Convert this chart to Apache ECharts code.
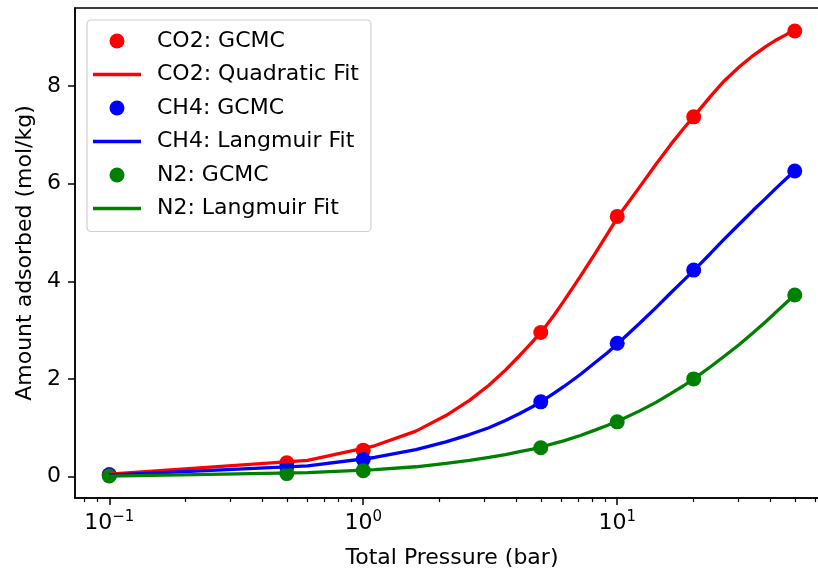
<!DOCTYPE html>
<html>
<head>
<meta charset="utf-8">
<script src="https://cdn.jsdelivr.net/npm/echarts@6/dist/echarts.min.js"></script>
<style>
html, body { margin: 0; padding: 0; background: #fff; }
#chart { width: 818px; height: 571px; }
</style>
</head>
<body>
<div id="chart"></div>
<script>
// GCMC points
const pressures = [0.1, 0.5, 1, 5, 10, 20, 50]
const co2Gcmc = [0.04, 0.28, 0.54, 2.95, 5.33, 7.37, 9.13]
const ch4Gcmc = [0.03, 0.20, 0.35, 1.53, 2.73, 4.23, 6.26]
const n2Gcmc = [0.01, 0.06, 0.12, 0.59, 1.12, 2.00, 3.72]

// fitted curves
const fitPressures = [0.1, 0.604, 1.108, 1.612, 2.116, 2.62, 3.124, 3.628, 4.132, 4.636, 5.14, 5.645, 6.149, 7.157, 8.165, 9.173, 10.18, 12.2, 14.21, 16.23, 18.25, 20.26, 23.29, 26.31, 30.34, 34.37, 38.41, 42.44, 46.47, 50]
const co2Fit = [0.05, 0.33, 0.63, 0.93, 1.25, 1.56, 1.87, 2.18, 2.48, 2.76, 3.03, 3.31, 3.59, 4.10, 4.56, 4.98, 5.36, 5.92, 6.40, 6.80, 7.13, 7.41, 7.79, 8.10, 8.40, 8.63, 8.81, 8.95, 9.06, 9.14]
const ch4Fit = [0.03, 0.22, 0.39, 0.55, 0.71, 0.86, 1.00, 1.15, 1.29, 1.43, 1.57, 1.71, 1.84, 2.09, 2.33, 2.54, 2.75, 3.13, 3.46, 3.76, 4.02, 4.25, 4.57, 4.86, 5.18, 5.46, 5.70, 5.92, 6.11, 6.26]
const n2Fit = [0.01, 0.08, 0.14, 0.20, 0.27, 0.33, 0.39, 0.45, 0.51, 0.56, 0.62, 0.68, 0.73, 0.84, 0.95, 1.05, 1.15, 1.34, 1.52, 1.70, 1.86, 2.02, 2.25, 2.46, 2.71, 2.95, 3.17, 3.38, 3.57, 3.72]

const xMajorTicks = [0.1, 1, 10]
const xMinorTicks = [0.08, 0.09, 0.2, 0.3, 0.4, 0.5, 0.6, 0.7, 0.8, 0.9, 2, 3, 4, 5, 6, 7, 8, 9, 20, 30, 40, 50, 60]
const yTicks = [0, 2, 4, 6, 8]

const FONT = 'DejaVu Sans'
const LINE_W = 3.3
const lineIcon = 'path://M0,0H48V' + LINE_W + 'H0Z'

const zip = (xs, ys) => xs.map((x, i) => [x, ys[i]])

const pointSeries = (name, xs, ys, color) => ({
  name,
  type: 'scatter',
  data: zip(xs, ys),
  symbol: 'circle',
  symbolSize: 15,
  itemStyle: { color, opacity: 1 },
  emphasis: { disabled: true }
})
const fitSeries = (name, xs, ys, color) => ({
  name,
  type: 'line',
  data: zip(xs, ys),
  symbol: 'none',
  showSymbol: false,
  lineStyle: { color, width: LINE_W },
  itemStyle: { color },
  emphasis: { disabled: true }
})

const chart = echarts.init(document.getElementById('chart'))
const option = {
  backgroundColor: '#fff',
  animation: false,
  textStyle: { fontFamily: FONT },
  grid: {
    left: 75,
    top: 8,
    width: 754,
    height: 490,
    show: true,
    borderColor: '#000',
    borderWidth: 1.5,
    outerBoundsMode: 'none'
  },
  legend: {
    orient: 'vertical',
    left: 87,
    top: 20,
    padding: [8, 12, 10, 6],
    itemWidth: 48,
    itemHeight: 15,
    itemGap: 7.5,
    backgroundColor: '#fff',
    borderColor: '#d0d0d0',
    borderWidth: 1.2,
    borderRadius: 4,
    textStyle: { fontFamily: FONT, fontSize: 22, color: '#000', lineHeight: 26, padding: [0, 0, 0, 11] },
    data: [
      { name: 'CO2: GCMC', icon: 'circle' },
      { name: 'CO2: Quadratic Fit', icon: lineIcon },
      { name: 'CH4: GCMC', icon: 'circle' },
      { name: 'CH4: Langmuir Fit', icon: lineIcon },
      { name: 'N2: GCMC', icon: 'circle' },
      { name: 'N2: Langmuir Fit', icon: lineIcon }
    ]
  },
  xAxis: [
    {
      type: 'log',
      logBase: 10,
      min: 0.0733,
      max: 68.2,
      position: 'bottom',
      name: 'Total Pressure (bar)',
      nameLocation: 'middle',
      nameGap: 49,
      nameTextStyle: { fontFamily: FONT, fontSize: 22, color: '#000' },
      axisLine: { show: true, onZero: false, lineStyle: { color: '#000', width: 1.5 } },
      axisTick: { show: true, length: 7, lineStyle: { color: '#000', width: 1.5 }, customValues: xMajorTicks },
      axisLabel: {
        customValues: xMajorTicks,
        margin: 12,
        formatter: v => '{b|10}{s|' + String(Math.round(Math.log10(v))).replace('-', '\u2212') + '}',
        rich: {
          b: { fontFamily: FONT, fontSize: 22, color: '#000', lineHeight: 26 },
          s: { fontFamily: FONT, fontSize: 15, color: '#000', lineHeight: 15, verticalAlign: 'top' }
        }
      },
      splitLine: { show: false },
      minorTick: { show: false }
    },
    {
      type: 'log',
      logBase: 10,
      min: 0.0733,
      max: 68.2,
      position: 'bottom',
      axisLine: { show: false, onZero: false },
      axisTick: { show: true, length: 4, lineStyle: { color: '#000', width: 1.2 }, customValues: xMinorTicks },
      axisLabel: { show: false },
      splitLine: { show: false }
    }
  ],
  yAxis: {
    type: 'value',
    min: -0.44,
    max: 9.6,
    name: 'Amount adsorbed (mol/kg)',
    nameLocation: 'middle',
    nameGap: 38,
    nameTextStyle: { fontFamily: FONT, fontSize: 22, color: '#000' },
    axisLine: { show: true, onZero: false, lineStyle: { color: '#000', width: 1.5 } },
    axisTick: { show: true, length: 7, lineStyle: { color: '#000', width: 1.5 }, customValues: yTicks },
    axisLabel: { customValues: yTicks, margin: 14, fontFamily: FONT, fontSize: 22, color: '#000' },
    splitLine: { show: false }
  },
  series: [
    pointSeries('CO2: GCMC', pressures, co2Gcmc, '#ff0000'),
    fitSeries('CO2: Quadratic Fit', fitPressures, co2Fit, '#ff0000'),
    pointSeries('CH4: GCMC', pressures, ch4Gcmc, '#0000ff'),
    fitSeries('CH4: Langmuir Fit', fitPressures, ch4Fit, '#0000ff'),
    pointSeries('N2: GCMC', pressures, n2Gcmc, '#008000'),
    fitSeries('N2: Langmuir Fit', fitPressures, n2Fit, '#008000')
  ]
}
chart.setOption(option)
</script>
</body>
</html>
